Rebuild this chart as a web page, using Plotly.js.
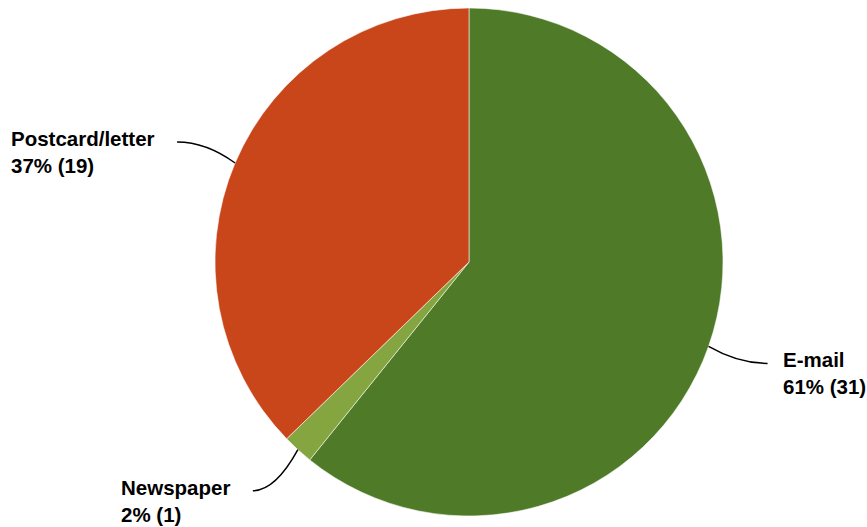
<!DOCTYPE html>
<html>
<head>
<meta charset="utf-8">
<script src="https://cdn.plot.ly/plotly-3.0.1.min.js"></script>
<style>html,body{margin:0;padding:0;background:#fff;}#chart{width:867px;height:527px;}</style>
</head>
<body>
<div id="chart"></div>
<script>
// ---- data ----
const labels = ['E-mail', 'Newspaper', 'Postcard/letter'];
const values = [31, 1, 19];
const colors = ['#4f7a28', '#84a540', '#c8461a'];

// ---- style (leader line offsets, label gaps) ----
const leaderDx = [59, -45, -58];
const leaderDy = [17, 41, -21];
const labelGap = [13, -21, -20];

const W = 867, H = 527;
const margin = {l: 0, r: 0, t: 8, b: 11};
const plotH = H - margin.t - margin.b;
const R = plotH / 2;
const cx = 469, cy = margin.t + R;
const domX = [cx / W - 0.3, cx / W + 0.3];

const total = values.reduce((a, b) => a + b, 0);
const toPX = px => (px - margin.l) / (W - margin.l - margin.r);
const toPY = py => (H - margin.b - py) / plotH;

const shapes = [];
const annotations = [];
let cum = 0;
values.forEach((v, i) => {
  const mid = (cum + v / 2) / total * 2 * Math.PI;
  cum += v;
  const sx = cx + R * Math.sin(mid), sy = cy - R * Math.cos(mid);
  const ex = sx + leaderDx[i], ey = sy + leaderDy[i];
  const qx = ex - leaderDx[i] * 0.5, qy = ey;
  shapes.push({
    type: 'path', xref: 'paper', yref: 'paper',
    path: `M ${toPX(sx)},${toPY(sy)} Q ${toPX(qx)},${toPY(qy)} ${toPX(ex)},${toPY(ey)}`,
    line: {color: '#000', width: 1.5}
  });
  const pct = Math.round(v / total * 100);
  annotations.push({
    xref: 'paper', yref: 'paper',
    x: toPX(ex + labelGap[i]), y: toPY(ey + 10),
    xanchor: labelGap[i] > 0 ? 'left' : 'right', yanchor: 'middle',
    align: 'left', showarrow: false,
    text: `${labels[i]}<br>${pct}% (${v})`,
    font: {family: 'Liberation Sans, Arial, sans-serif', size: 20.5, color: '#000', weight: 'bold'}
  });
});

const trace = {
  type: 'pie', labels: labels, values: values,
  marker: {colors: colors, line: {color: 'rgba(255,255,255,0.55)', width: 1}},
  sort: false, direction: 'clockwise', rotation: 0,
  textinfo: 'none', hoverinfo: 'none',
  domain: {x: domX, y: [0, 1]}
};

Plotly.newPlot('chart', [trace], {
  width: W, height: H, margin: margin,
  showlegend: false, paper_bgcolor: '#fff',
  shapes: shapes, annotations: annotations
}, {displayModeBar: false, staticPlot: true});
</script>
</body>
</html>
